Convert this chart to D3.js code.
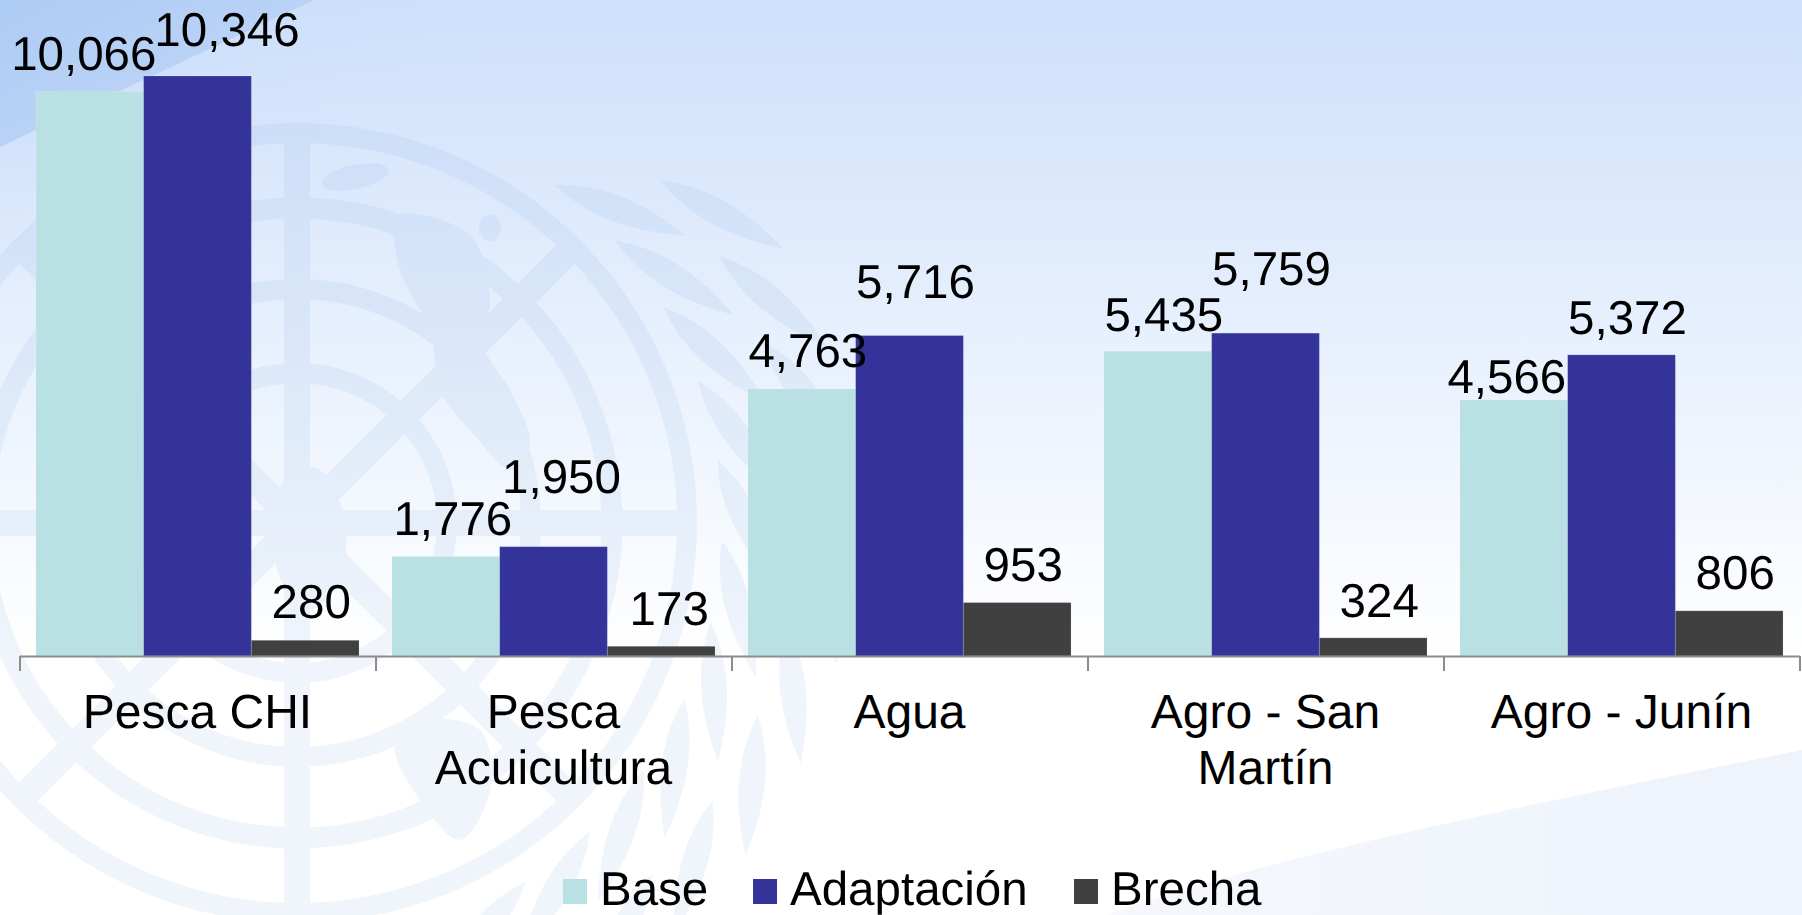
<!DOCTYPE html>
<html>
<head>
<meta charset="utf-8">
<script src="https://cdn.jsdelivr.net/npm/d3@7"></script>
<style>
  html, body { margin: 0; padding: 0; background: white; }
  svg { display: block; }
  text { font-family: "Liberation Sans", Arial, sans-serif; fill: black; text-rendering: geometricPrecision; }
</style>
</head>
<body>
<div id="chart"></div>
<script>
const categories = [["Pesca CHI"], ["Pesca", "Acuicultura"], ["Agua"], ["Agro - San", "Martín"], ["Agro - Junín"]];
const seriesNames = ["Base", "Adaptación", "Brecha"];
const baseValues = [10066, 1776, 4763, 5435, 4566];
const adaptacionValues = [10346, 1950, 5716, 5759, 5372];
const brechaValues = [280, 173, 953, 324, 806];

const allValues = [baseValues, adaptacionValues, brechaValues];
const colors = ["#b9e0e2", "#333399", "#404040"];

// the labels were moved by hand in the original, so each one has its own nudge [dx, dy]
const labelNudges = [
    [[-6, -22], [7, -21], [6, -21.5], [6, -20], [-7, -7]],
    [[29.5, -30.5], [8, -53.7], [6, -38], [6, -48], [6, -21]],
    [[6, -22], [8, -21], [6, -21.6], [6, -21], [6, -22]]
];

const width = 1802, height = 915;
const margin = {left: 19.5, right: 2.5, baseline: 656, top: 76};
const labelSize = 47.5, textSize = 48, legendSize = 47.5;

const svg = d3.select("#chart").append("svg").attr("width", width).attr("height", height);
const defs = svg.append("defs");

function gradient(id, x1, y1, x2, y2, stops) {
    const g = defs.append("linearGradient").attr("id", id)
        .attr("x1", x1).attr("y1", y1).attr("x2", x2).attr("y2", y2);
    stops.forEach(([o, c, a]) => g.append("stop").attr("offset", o).attr("stop-color", c).attr("stop-opacity", a));
}

// ---- background ----
gradient("bg", 0, 0, 0, 1, [[0, "#cee0fb", 1], [0.72, "#ffffff", 1]]);
gradient("wedge", 0, 0, 1, 1, [[0, "#aecbf5", 1], [0.5, "#b9d2f6", 1]]);
gradient("glow", 0, 0, 1, 1, [[0, "#bdd4f7", 0.8], [0.25, "#c8dcf9", 0.35], [0.5, "#d0e2fb", 0]]);
gradient("swoosh", 0, 0, 1, 0, [[0, "#f6f8fd", 1], [0.5, "#f1f5fc", 1], [1, "#eef3fc", 1]]);
svg.append("rect").attr("width", width).attr("height", height).attr("fill", "url(#bg)");

const bgLine = d3.line();
svg.append("path").attr("d", bgLine([[0, 0], [620, 0], [0, 300]]) + "Z").attr("fill", "url(#glow)");
svg.append("path").attr("d", bgLine([[0, 0], [314, 0], [0, 147]]) + "Z").attr("fill", "url(#wedge)");

const swooshLine = d3.line().curve(d3.curveBasis);
svg.append("path")
    .attr("d", swooshLine([[1107, 915], [1245, 869], [1511, 808], [1802, 750]]) + `L${width},${height}Z`)
    .attr("fill", "url(#swoosh)");

// ---- UN emblem watermark ----
const emblem = svg.append("g").attr("transform", "translate(297,523)").attr("opacity", 0.11);
const emblemColor = "#7ba6dc";
[[390, 20], [315, 21], [234, 20], [150, 20]].forEach(([r, w]) => {
    emblem.append("circle").attr("r", r).attr("fill", "none").attr("stroke", emblemColor).attr("stroke-width", w);
});
d3.range(8).forEach(i => {
    emblem.append("rect").attr("x", -13).attr("y", -390).attr("width", 26).attr("height", 390)
        .attr("fill", emblemColor).attr("transform", `rotate(${i * 45})`);
});
const landLine = d3.line().curve(d3.curveCardinalClosed);
[
    [[103, -308], [173, -288], [193, -223], [183, -183], [213, -133], [233, -83], [213, -53], [173, -93], [143, -133], [133, -193], [103, -253]],
    [[-12, -43], [23, -53], [48, -3], [43, 57], [13, 87], [-12, 67], [-27, 7]],
    [[123, 197], [183, 207], [193, 267], [163, 317], [123, 277], [98, 227]]
].forEach(pts => emblem.append("path").attr("d", landLine(pts)).attr("fill", emblemColor));
emblem.append("ellipse").attr("cx", 58).attr("cy", -346).attr("rx", 34).attr("ry", 12)
    .attr("transform", "rotate(-12 58 -346)").attr("fill", emblemColor);
emblem.append("ellipse").attr("cx", 193).attr("cy", -295).attr("rx", 11).attr("ry", 13).attr("fill", emblemColor);

const leaf = "M0,-70Q26,-10 0,70Q-26,-10 0,-70Z";
[[450, -44, 76], [525, -36, 72]].forEach(([r, from, to]) => {
    d3.range(from, to, 11).forEach(a => {
        const t = a * Math.PI / 180;
        emblem.append("path").attr("d", leaf)
            .attr("transform", `translate(${r * Math.cos(t)},${r * Math.sin(t)}) rotate(${a - 25})`)
            .attr("fill", emblemColor);
    });
});

// ---- chart ----
const x = d3.scaleBand().domain(d3.range(categories.length)).range([margin.left, width - margin.right]);
const xInner = d3.scaleBand().domain(d3.range(seriesNames.length)).range([0, x.bandwidth()]).paddingInner(0).paddingOuter(0.153);
const y = d3.scaleLinear().domain([0, d3.max(adaptacionValues)]).range([margin.baseline, margin.top]);

allValues.forEach((vals, s) => {
    svg.append("g").attr("fill", colors[s]).selectAll("rect").data(vals).join("rect")
        .attr("x", (d, k) => x(k) + xInner(s))
        .attr("y", d => y(d))
        .attr("width", xInner.bandwidth())
        .attr("height", d => y(0) - y(d))
        .attr("stroke", "#ffffff").attr("stroke-opacity", 0.15).attr("stroke-width", 1);
});

// axis: ticks sit on the category edges
const xEdges = d3.scaleLinear().domain([0, categories.length]).range(x.range());
const axis = svg.append("g").attr("transform", `translate(0,${margin.baseline})`)
    .call(d3.axisBottom(xEdges).ticks(categories.length).tickSize(15).tickSizeOuter(0).tickFormat(""));
axis.selectAll("path, line").attr("stroke", "#8c8c8c").attr("stroke-width", 2);

// value labels
const fmt = d3.format(",");
allValues.forEach((vals, s) => {
    svg.append("g").selectAll("text").data(vals).join("text")
        .attr("x", (d, k) => x(k) + xInner(s) + xInner.bandwidth() / 2 + labelNudges[s][k][0])
        .attr("y", (d, k) => y(d) + labelNudges[s][k][1])
        .attr("text-anchor", "middle")
        .style("font-size", labelSize + "px")
        .text(d => fmt(d));
});

// category labels
const catText = svg.append("g").selectAll("text").data(categories).join("text")
    .attr("text-anchor", "middle")
    .attr("transform", (d, k) => `translate(${x(k) + x.bandwidth() / 2},728)`)
    .style("font-size", textSize + "px");
catText.selectAll("tspan").data(d => d).join("tspan")
    .attr("x", 0).attr("y", (d, i) => i * 55.5)
    .text(d => d);

// legend
const legendX = [563, 753, 1074];
const legend = svg.append("g").selectAll("g").data(seriesNames).join("g")
    .attr("transform", (d, i) => `translate(${legendX[i]},879)`);
legend.append("rect").attr("width", 24).attr("height", 25).attr("fill", (d, i) => colors[i]);
legend.append("text").attr("x", 37).attr("y", 26).style("font-size", legendSize + "px").text(d => d);
</script>
</body>
</html>
